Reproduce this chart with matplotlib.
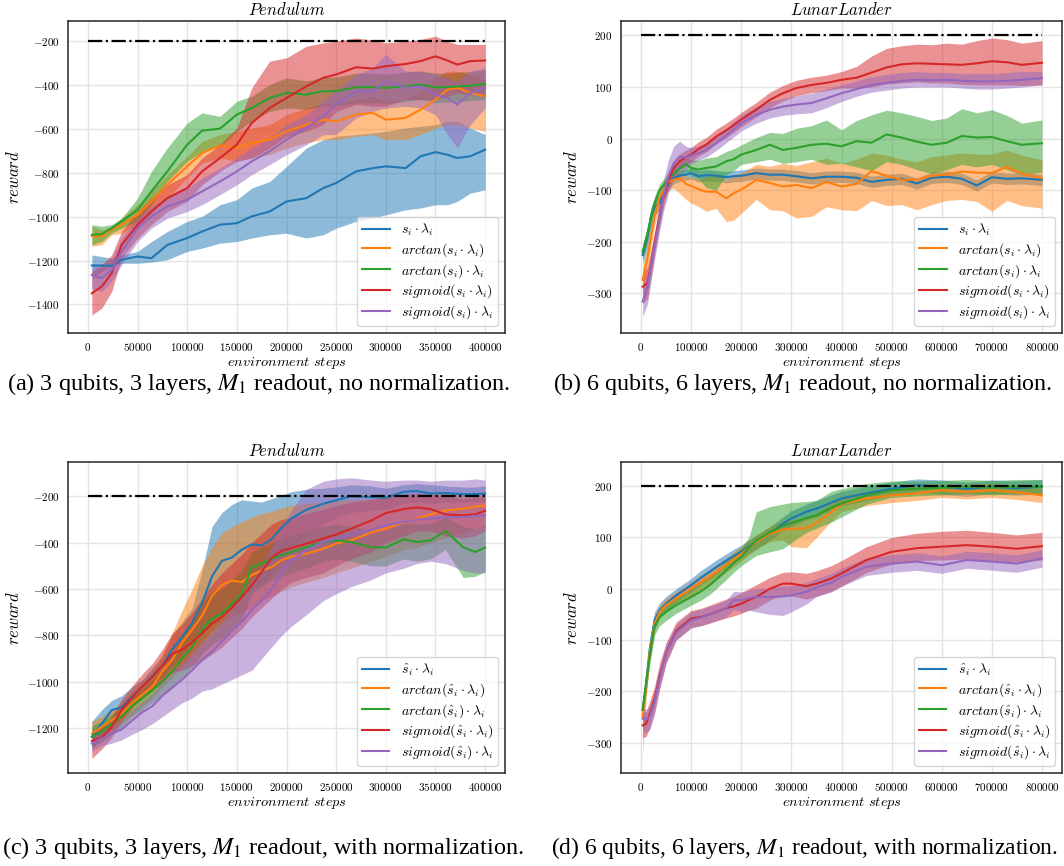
import matplotlib
matplotlib.use('Agg')
import matplotlib.pyplot as plt
from matplotlib.ticker import FuncFormatter

plt.rcParams['mathtext.fontset'] = 'cm'
plt.rcParams['font.family'] = 'serif'
plt.rcParams['font.serif'] = ['cmr10', 'DejaVu Serif']
plt.rcParams['axes.formatter.use_mathtext'] = True

# ---------------- data: panel (a) Pendulum, no normalization ----------------
a_steps = [4000, 14000, 24000, 34000, 50000, 64000, 80000, 100000, 115000, 133000, 150000, 165000, 183000, 200000,
           220000, 237000, 250000, 270000, 287000, 300000, 320000, 335000, 350000, 362000, 372000, 385000, 400000]
a_blue = [-1222, -1222, -1224, -1196, -1181, -1189, -1128, -1097, -1067, -1036, -1029, -998, -976, -930, -915, -869, -846, -793, -778, -770, -778, -724, -705, -717, -732, -724, -694]
a_blue_lo = [-1280, -1250, -1227, -1212, -1212, -1207, -1196, -1158, -1143, -1120, -1113, -1097, -1082, -1075, -1097, -1082, -1052, -1021, -1006, -991, -968, -960, -945, -945, -930, -892, -877]
a_blue_hi = [-1174, -1181, -1189, -1174, -1158, -1113, -1067, -1021, -998, -945, -922, -869, -839, -770, -686, -648, -633, -625, -618, -610, -595, -587, -580, -564, -564, -595, -625]
a_orange = [-1087, -1090, -1059, -1036, -991, -930, -854, -770, -709, -674, -686, -663, -648, -610, -580, -557, -565, -534, -526, -557, -549, -511, -465, -420, -412, -435, -450]
a_orange_lo = [-1134, -1128, -1082, -1075, -1036, -976, -915, -823, -755, -732, -747, -732, -717, -686, -663, -648, -648, -633, -625, -648, -648, -625, -595, -580, -580, -595, -610]
a_orange_hi = [-1043, -1059, -1043, -1006, -945, -884, -808, -724, -656, -625, -610, -595, -580, -534, -504, -481, -488, -465, -450, -473, -465, -427, -366, -336, -336, -351, -374]
a_green = [-1082, -1079, -1052, -1021, -968, -884, -793, -671, -607, -598, -534, -504, -458, -435, -443, -427, -427, -409, -409, -412, -405, -397, -409, -409, -405, -402, -394]
a_green_lo = [-1128, -1112, -1074, -1052, -1021, -945, -839, -747, -702, -679, -610, -564, -519, -504, -510, -495, -495, -480, -480, -482, -475, -465, -480, -478, -475, -470, -465]
a_green_hi = [-1036, -1043, -1036, -1006, -915, -793, -686, -572, -526, -542, -473, -450, -397, -366, -380, -365, -362, -345, -345, -350, -340, -335, -345, -345, -340, -338, -330]
a_red = [-1349, -1318, -1257, -1128, -1037, -976, -915, -869, -793, -732, -671, -572, -504, -458, -405, -366, -351, -318, -324, -313, -303, -290, -268, -287, -306, -290, -287]
a_red_lo = [-1448, -1417, -1341, -1189, -1097, -1036, -976, -930, -854, -793, -747, -732, -686, -633, -610, -580, -519, -488, -496, -496, -465, -465, -465, -450, -435, -443, -443]
a_red_hi = [-1250, -1219, -1174, -1067, -976, -915, -854, -808, -732, -671, -595, -412, -290, -275, -222, -207, -199, -184, -195, -207, -199, -191, -176, -199, -214, -214, -214]
a_purple = [-1265, -1280, -1242, -1158, -1052, -998, -953, -922, -884, -839, -793, -747, -701, -648, -595, -542, -488, -427, -427, -382, -412, -405, -443, -458, -488, -435, -412]
a_purple_lo = [-1326, -1341, -1295, -1219, -1113, -1052, -1006, -976, -945, -899, -854, -808, -762, -717, -671, -625, -625, -549, -519, -504, -496, -504, -534, -625, -686, -580, -504]
a_purple_hi = [-1212, -1227, -1189, -1097, -1006, -953, -908, -869, -823, -778, -732, -686, -640, -580, -534, -473, -427, -351, -321, -260, -336, -336, -351, -366, -382, -336, -321]

# ---------------- data: panel (b) LunarLander, no normalization ----------------
b_steps = [3300, 13000, 20000, 27000, 37000, 45000, 55000, 65000, 77000, 90000, 100000, 115000, 130000, 150000,
           170000, 185000, 200000, 230000, 257000, 283000, 310000, 340000, 370000, 400000, 430000, 460000, 490000,
           520000, 550000, 580000, 610000, 640000, 670000, 700000, 730000, 760000, 800000]
b_blue = [-226, -190, -151, -132, -125, -104, -86, -77, -72, -70, -67, -73, -71, -72, -75, -73, -72, -67, -70, -70, -73, -77, -74, -74, -76, -84, -80, -78, -87, -76, -74, -78, -91, -75, -78, -77, -80]
b_blue_hi = [-206, -170, -133, -117, -110, -92, -74, -66, -62, -60, -57, -62, -60, -62, -64, -62, -61, -57, -59, -59, -62, -66, -63, -63, -65, -73, -69, -67, -76, -65, -63, -67, -80, -64, -67, -66, -69]
b_blue_lo = [-246, -210, -170, -148, -140, -116, -98, -88, -83, -81, -78, -84, -82, -83, -86, -84, -83, -78, -81, -81, -84, -88, -85, -85, -87, -95, -91, -89, -98, -87, -85, -89, -102, -86, -89, -88, -91]
b_orange = [-274, -230, -190, -150, -115, -100, -84, -80, -77, -88, -92, -98, -103, -103, -116, -106, -99, -80, -86, -93, -90, -96, -84, -93, -88, -63, -72, -80, -80, -72, -70, -64, -66, -67, -55, -68, -77]
b_orange_hi = [-250, -205, -170, -132, -100, -86, -70, -66, -67, -72, -75, -78, -75, -67, -80, -70, -67, -50, -54, -48, -52, -45, -38, -48, -40, -28, -32, -40, -45, -35, -32, -28, -30, -30, -22, -32, -41]
b_orange_lo = [-300, -255, -210, -170, -130, -115, -100, -96, -106, -118, -125, -132, -141, -135, -161, -158, -145, -118, -138, -140, -154, -151, -132, -138, -140, -120, -130, -128, -138, -128, -120, -118, -122, -141, -120, -130, -135]
b_green = [-219, -185, -150, -125, -100, -90, -78, -68, -58, -50, -57, -60, -57, -54, -44, -40, -31, -22, -12, -22, -18, -12, -10, -15, -5, -8, 8, 2, -6, -12, -8, 5, 2, 3, -5, -12, -9]
b_green_hi = [-205, -170, -135, -112, -88, -78, -66, -56, -45, -38, -41, -42, -38, -35, -25, -20, -12, 2, 12, 10, 20, 25, 36, 17, 35, 46, 55, 50, 43, 35, 40, 58, 50, 56, 45, 30, 36]
b_green_lo = [-235, -200, -165, -140, -115, -102, -90, -80, -72, -65, -72, -78, -95, -100, -70, -62, -50, -45, -40, -48, -45, -40, -50, -48, -55, -62, -45, -50, -60, -68, -60, -50, -55, -50, -60, -70, -65]
b_red = [-287, -280, -242, -203, -150, -112, -80, -57, -44, -36, -31, -20, -12, 4, 16, 26, 37, 56, 75, 88, 98, 104, 108, 114, 118, 128, 138, 144, 146, 145, 144, 143, 146, 150, 148, 143, 147]
b_red_hi = [-260, -250, -215, -180, -130, -95, -65, -45, -30, -22, -17, -6, 2, 18, 30, 40, 51, 70, 90, 103, 113, 119, 123, 130, 140, 160, 175, 180, 183, 182, 185, 183, 190, 195, 192, 185, 190]
b_red_lo = [-320, -310, -270, -225, -170, -130, -95, -70, -58, -50, -45, -34, -26, -10, 2, 12, 23, 42, 60, 73, 83, 89, 93, 98, 98, 100, 106, 108, 110, 108, 108, 105, 104, 104, 104, 103, 104]
b_purple = [-316, -287, -245, -209, -155, -110, -72, -48, -35, -37, -33, -28, -22, -9, 6, 18, 30, 46, 56, 62, 66, 69, 78, 88, 96, 104, 108, 112, 114, 113, 114, 112, 111, 111, 112, 114, 117]
b_purple_hi = [-290, -260, -220, -185, -125, -80, -40, -15, -5, -15, -18, -14, -8, 5, 20, 33, 45, 62, 72, 78, 83, 88, 96, 104, 112, 120, 124, 128, 130, 128, 128, 126, 126, 126, 128, 130, 130]
b_purple_lo = [-345, -320, -275, -235, -180, -140, -105, -80, -65, -60, -48, -42, -36, -23, -8, 3, 15, 30, 40, 45, 48, 50, 60, 72, 82, 90, 94, 98, 100, 100, 100, 98, 96, 96, 98, 100, 104]

# ---------------- data: panel (c) Pendulum, with normalization ----------------
c_steps = [4000, 14000, 24000, 34000, 45000, 55000, 65000, 75000, 85000, 95000, 105000, 115000, 125000, 135000,
           145000, 155000, 165000, 175000, 185000, 195000, 205000, 220000, 237000, 250000, 265000, 285000, 300000,
           318000, 331000, 345000, 360000, 378000, 390000, 400000]
c_blue = [-1237, -1180, -1122, -1110, -1060, -1020, -975, -930, -860, -805, -745, -660, -545, -478, -464, -430, -407, -412, -385, -335, -295, -258, -232, -217, -200, -203, -206, -181, -177, -188, -186, -191, -190, -189]
c_blue_hi = [-1170, -1120, -1080, -1060, -1020, -990, -940, -890, -800, -740, -680, -520, -330, -270, -235, -215, -220, -225, -210, -195, -180, -170, -165, -160, -150, -155, -165, -150, -145, -150, -155, -160, -160, -155]
c_blue_lo = [-1290, -1240, -1170, -1150, -1100, -1060, -1010, -980, -930, -880, -830, -790, -740, -700, -680, -640, -600, -580, -540, -480, -420, -360, -320, -290, -270, -260, -255, -230, -225, -230, -225, -225, -222, -222]
c_orange = [-1223, -1194, -1166, -1137, -1090, -1055, -1020, -955, -905, -830, -775, -715, -630, -582, -563, -570, -540, -520, -505, -475, -460, -447, -426, -404, -390, -356, -339, -311, -296, -278, -261, -253, -245, -239]
c_orange_hi = [-1170, -1150, -1120, -1090, -1040, -1000, -960, -880, -790, -690, -600, -500, -420, -360, -330, -310, -290, -275, -265, -250, -240, -230, -225, -220, -215, -210, -205, -200, -195, -190, -185, -190, -185, -180]
c_orange_lo = [-1270, -1240, -1210, -1180, -1140, -1105, -1070, -1020, -980, -930, -880, -830, -780, -740, -720, -700, -680, -650, -630, -610, -590, -570, -550, -530, -510, -480, -460, -430, -420, -400, -380, -360, -340, -330]
c_green = [-1237, -1215, -1180, -1150, -1100, -1070, -1036, -999, -954, -897, -851, -772, -727, -706, -663, -620, -505, -490, -469, -454, -440, -420, -397, -390, -397, -419, -421, -385, -397, -390, -350, -420, -440, -421]
c_green_hi = [-1190, -1170, -1140, -1110, -1065, -1030, -990, -940, -880, -800, -740, -660, -610, -600, -560, -520, -440, -420, -400, -385, -370, -350, -330, -320, -330, -345, -345, -315, -320, -315, -290, -330, -340, -320]
c_green_lo = [-1280, -1260, -1225, -1195, -1150, -1120, -1090, -1060, -1020, -980, -940, -880, -840, -810, -770, -730, -620, -590, -560, -545, -530, -510, -480, -470, -480, -500, -500, -470, -480, -470, -430, -550, -545, -525]
c_red = [-1255, -1240, -1194, -1122, -1065, -1020, -979, -930, -880, -860, -830, -790, -750, -720, -680, -634, -584, -525, -465, -435, -423, -404, -382, -365, -340, -305, -272, -255, -248, -255, -278, -282, -278, -262]
c_red_hi = [-1210, -1195, -1150, -1075, -1015, -965, -920, -860, -790, -750, -700, -640, -580, -530, -490, -450, -400, -360, -320, -300, -290, -275, -255, -240, -225, -215, -200, -190, -185, -190, -200, -210, -205, -200]
c_red_lo = [-1330, -1290, -1240, -1170, -1110, -1070, -1035, -1000, -960, -950, -930, -910, -880, -850, -810, -770, -720, -680, -640, -600, -570, -550, -530, -500, -470, -440, -400, -370, -350, -350, -370, -380, -370, -350]
c_purple = [-1266, -1244, -1225, -1205, -1165, -1130, -1105, -1060, -1025, -990, -950, -905, -870, -825, -780, -740, -690, -650, -600, -530, -475, -433, -397, -382, -365, -345, -325, -310, -300, -296, -291, -289, -285, -282]
c_purple_hi = [-1230, -1215, -1190, -1165, -1120, -1085, -1050, -1000, -960, -920, -880, -830, -790, -740, -680, -620, -560, -500, -420, -330, -260, -170, -135, -125, -120, -130, -135, -130, -130, -135, -130, -130, -125, -130]
c_purple_lo = [-1300, -1275, -1265, -1250, -1225, -1205, -1180, -1150, -1120, -1090, -1070, -1040, -1030, -1010, -990, -970, -950, -900, -850, -800, -760, -710, -650, -620, -590, -560, -530, -510, -490, -480, -490, -520, -530, -530]

# ---------------- data: panel (d) LunarLander, with normalization ----------------
d_steps = [3300, 10000, 17000, 27000, 37000, 50000, 70000, 100000, 120000, 137000, 150000, 170000, 185000, 200000,
           215000, 230000, 257000, 283000, 300000, 330000, 350000, 380000, 400000, 450000, 500000, 550000, 600000,
           650000, 700000, 750000, 800000]
d_blue = [-236, -185, -120, -61, -42, -29, -13, 7, 22, 33, 42, 55, 64, 72, 82, 91, 107, 127, 137, 150, 156, 168, 176, 186, 195, 202, 199, 195, 199, 196, 199]
d_blue_hi = [-215, -165, -100, -45, -28, -15, 0, 20, 36, 47, 56, 68, 77, 85, 95, 104, 120, 140, 152, 165, 172, 183, 190, 200, 208, 214, 212, 208, 212, 210, 213]
d_blue_lo = [-260, -205, -140, -77, -56, -43, -26, -6, 8, 19, 28, 42, 51, 59, 69, 78, 94, 114, 122, 135, 140, 153, 162, 172, 182, 188, 184, 180, 185, 182, 185]
d_orange = [-249, -191, -126, -68, -45, -32, -19, 0, 13, 23, 32, 46, 57, 68, 80, 91, 107, 115, 117, 118, 128, 150, 165, 176, 182, 186, 192, 189, 192, 188, 182]
d_orange_hi = [-220, -170, -108, -54, -32, -19, -6, 13, 27, 37, 46, 60, 71, 82, 94, 105, 122, 132, 135, 138, 148, 168, 180, 190, 195, 200, 205, 203, 206, 202, 196]
d_orange_lo = [-320, -215, -145, -82, -58, -45, -32, -13, 0, 9, 18, 32, 43, 54, 66, 77, 92, 95, 82, 80, 100, 132, 150, 162, 168, 172, 178, 175, 178, 174, 168]
d_green = [-236, -185, -133, -74, -55, -45, -32, -16, -5, 7, 18, 36, 50, 62, 80, 94, 110, 123, 128, 138, 143, 158, 166, 182, 192, 195, 197, 199, 197, 199, 199]
d_green_hi = [-220, -170, -117, -58, -40, -30, -16, 0, 12, 25, 36, 54, 68, 80, 100, 150, 160, 165, 168, 170, 172, 190, 195, 205, 210, 210, 211, 213, 211, 213, 213]
d_green_lo = [-252, -200, -150, -90, -72, -62, -48, -32, -22, -11, 0, 18, 32, 45, 55, 65, 72, 78, 90, 110, 118, 130, 140, 165, 178, 181, 183, 185, 183, 185, 185]
d_red = [-266, -263, -245, -215, -170, -125, -82, -58, -55, -50, -45, -38, -34, -29, -22, -16, 0, 10, 10, 5, 10, 20, 30, 56, 72, 79, 82, 85, 82, 78, 83]
d_red_hi = [-240, -240, -220, -190, -145, -105, -65, -42, -38, -32, -27, -20, -15, -8, 0, 8, 22, 32, 33, 30, 35, 45, 55, 82, 100, 108, 112, 114, 110, 105, 110]
d_red_lo = [-290, -288, -272, -240, -195, -145, -100, -75, -72, -67, -63, -57, -53, -48, -42, -38, -22, -12, -14, -20, -15, -5, 5, 32, 48, 55, 56, 58, 55, 52, 56]
d_purple = [-253, -255, -250, -220, -175, -125, -85, -61, -56, -50, -46, -38, -22, -22, -18, -16, -16, -15, -13, -6, 3, 12, 23, 43, 49, 53, 46, 56, 53, 49, 59]
d_purple_hi = [-232, -235, -228, -198, -155, -108, -70, -45, -40, -34, -30, -22, -5, -6, -2, 0, 2, 5, 6, 12, 20, 30, 40, 60, 66, 70, 64, 73, 70, 66, 76]
d_purple_lo = [-275, -280, -275, -245, -195, -145, -100, -77, -72, -66, -62, -55, -40, -45, -42, -45, -50, -52, -45, -30, -15, -6, 5, 26, 32, 36, 30, 40, 36, 32, 42]

labels_raw = [r'$s_i \cdot \lambda_i$', r'$arctan(s_i \cdot \lambda_i)$', r'$arctan(s_i) \cdot \lambda_i$',
              r'$sigmoid(s_i \cdot \lambda_i)$', r'$sigmoid(s_i) \cdot \lambda_i$']
labels_norm = [r'$\hat{s}_i \cdot \lambda_i$', r'$arctan(\hat{s}_i \cdot \lambda_i)$', r'$arctan(\hat{s}_i) \cdot \lambda_i$',
               r'$sigmoid(\hat{s}_i \cdot \lambda_i)$', r'$sigmoid(\hat{s}_i) \cdot \lambda_i$']
colors = ['#1f77b4', '#ff7f0e', '#2ca02c', '#d62728', '#9467bd']

captions = ['(a) 3 qubits, 3 layers, $M_1$ readout, no normalization.',
            '(b) 6 qubits, 6 layers, $M_1$ readout, no normalization.',
            '(c) 3 qubits, 3 layers, $M_1$ readout, with normalization.',
            '(d) 6 qubits, 6 layers, $M_1$ readout, with normalization.']

W, H = 1064, 866
fig = plt.figure(figsize=(W / 100, H / 100), dpi=100)

math_fmt = FuncFormatter(lambda v, p: r'$%d$' % int(round(v)))


def box(l, t, r, b):
    return [l / W, 1 - b / H, (r - l) / W, (b - t) / H]


def panel(rect, steps, series, labels, title, target, xmax, xlim, ylim, xticks, yticks):
    ax = fig.add_axes(rect)
    for (m, lo, hi), c, lab in zip(series, colors, labels):
        ax.fill_between(steps, lo, hi, color=c, alpha=0.5, lw=0)
        ax.plot(steps, m, color=c, lw=1.5, label=lab)
    ax.plot([0, xmax], [target, target], color='k', ls='-.', lw=1.6)
    ax.set_xlim(*xlim)
    ax.set_ylim(*ylim)
    ax.set_xticks(xticks)
    ax.set_yticks(yticks)
    ax.xaxis.set_major_formatter(math_fmt)
    ax.yaxis.set_major_formatter(math_fmt)
    ax.grid(True, color='#e3e3e3', lw=1.0)
    ax.set_axisbelow(True)
    ax.tick_params(length=0, labelsize=8, pad=6)
    for s in ax.spines.values():
        s.set_color('#262626')
        s.set_linewidth(1.1)
    ax.set_title(title, fontsize=12, pad=4)
    ax.set_xlabel(r'$environment\ steps$', fontsize=10.3, labelpad=1)
    ax.set_ylabel(r'$reward$', fontsize=12, labelpad=4)
    ax.legend(loc='lower right', fontsize=10, framealpha=0.8, edgecolor='#cccccc',
              labelspacing=0.22, borderpad=0.35)
    return ax


pend_x = list(range(0, 400001, 50000))
lun_x = list(range(0, 800001, 100000))

panel(box(68, 21, 505, 333), a_steps,
      [(a_blue, a_blue_lo, a_blue_hi), (a_orange, a_orange_lo, a_orange_hi), (a_green, a_green_lo, a_green_hi),
       (a_red, a_red_lo, a_red_hi), (a_purple, a_purple_lo, a_purple_hi)],
      labels_raw, r'$Pendulum$', -200, 400000, (-20000, 420000), (-1530, -107), pend_x,
      list(range(-1400, -199, 200)))
panel(box(621, 21, 1062, 333), b_steps,
      [(b_blue, b_blue_lo, b_blue_hi), (b_orange, b_orange_lo, b_orange_hi), (b_green, b_green_lo, b_green_hi),
       (b_red, b_red_lo, b_red_hi), (b_purple, b_purple_lo, b_purple_hi)],
      labels_raw, r'$LunarLander$', 200, 800000, (-40000, 840000), (-377, 228), lun_x,
      list(range(-300, 201, 100)))
panel(box(68, 462, 505, 773), c_steps,
      [(c_blue, c_blue_lo, c_blue_hi), (c_orange, c_orange_lo, c_orange_hi), (c_green, c_green_lo, c_green_hi),
       (c_red, c_red_lo, c_red_hi), (c_purple, c_purple_lo, c_purple_hi)],
      labels_norm, r'$Pendulum$', -200, 400000, (-20000, 420000), (-1393, -52), pend_x,
      list(range(-1200, -199, 200)))
panel(box(621, 462, 1062, 773), d_steps,
      [(d_blue, d_blue_lo, d_blue_hi), (d_orange, d_orange_lo, d_orange_hi), (d_green, d_green_lo, d_green_hi),
       (d_red, d_red_lo, d_red_hi), (d_purple, d_purple_lo, d_purple_hi)],
      labels_norm, r'$LunarLander$', 200, 800000, (-40000, 840000), (-359, 247), lun_x,
      list(range(-300, 201, 100)))

cap_pos = [(7, 390, 17.5), (553, 390, 17.3), (2, 854, 17.5), (551, 854, 16.9)]
for (x, y, fs), txt in zip(cap_pos, captions):
    fig.text(x / W, 1 - y / H, txt, family='Liberation Serif', fontsize=fs, math_fontfamily='stix',
             ha='left', va='baseline')

fig.savefig('out.png', dpi=100)
